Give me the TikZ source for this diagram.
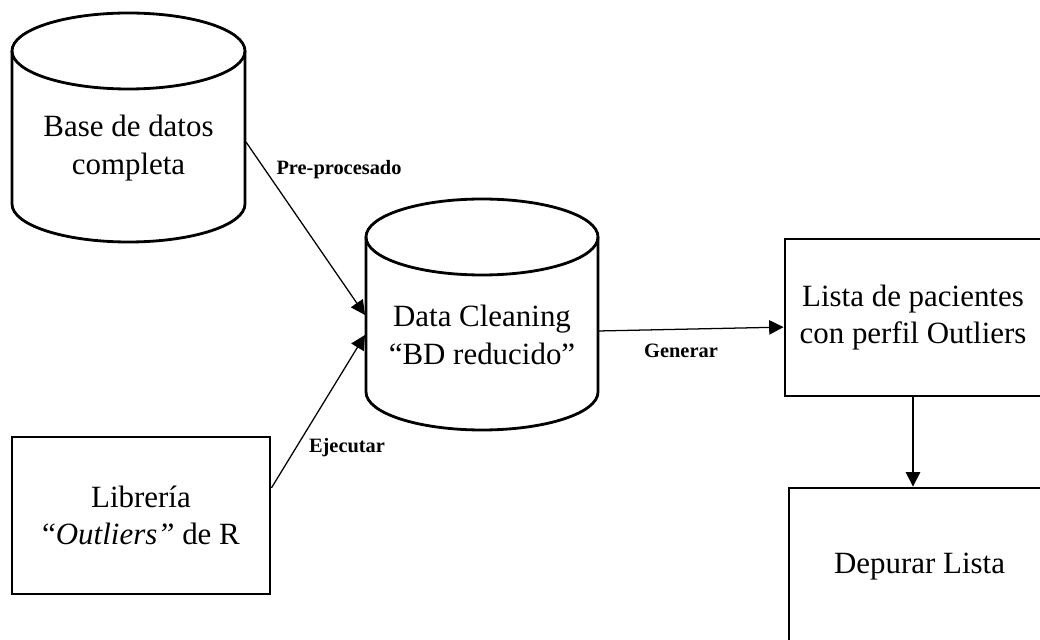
\documentclass[tikz,border=0pt]{standalone}
\usepackage{fontspec}
\setmainfont{Liberation Serif}
\usetikzlibrary{arrows.meta}
\tikzset{
	box/.style={
		draw,
		line width = 2pt,
		shape = rectangle,
		align = center,
		font = \fontsize{22}{26.5}\selectfont
	},
	txt/.style={
		align = center,
		font = \fontsize{22}{26.5}\selectfont
	},
	lbl/.style={
		font = \fontsize{14.5}{17}\selectfont\bfseries
	},
	cyl/.style={
		line width = 2pt
	},
	conn/.style={
		line width = 0.9pt,
		-{Triangle[length=0.36cm,width=0.36cm]}
	},
}

\begin{document}
\begin{tikzpicture}[x=0.025cm, y=0.025cm]
    \useasboundingbox (0,0) rectangle (1040,639);
    \clip (0,0) rectangle (1040,639);
    % cilindros
    \draw[cyl] (12,588) -- (12,435) arc[start angle=180, end angle=360, x radius=116.5, y radius=38] -- (245,588);
    \draw[cyl] (128.5,588) ellipse [x radius=116.5, y radius=38];
    \draw[cyl] (366,402) -- (366,247) arc[start angle=180, end angle=360, x radius=116, y radius=38] -- (598,402);
    \draw[cyl] (482,402) ellipse [x radius=116, y radius=38];
    \node[txt] (bd) at (128.5,491) {Base de datos\\completa};
    \node[txt] (dc) at (482,304) {Data Cleaning\\“BD reducido”};
    % cajas
    \node[box, minimum width=6.45cm, minimum height=3.925cm] (lib) at (141,123.5) {Librería\\“\textit{Outliers”} de R};
    \node[box, minimum width=6.4cm, minimum height=3.925cm] (lista) at (913,321.5) {Lista de pacientes\\con perfil Outliers};
    \node[box, minimum width=6.525cm, minimum height=3.95cm] (dep) at (919.5,72) {Depurar Lista};
    % puntos de conexion
    \coordinate (bdR) at (246,497);
    \coordinate (dcA) at (365,324);
    \coordinate (dcB) at (365,304);
    \coordinate (dcR) at (598,308);
    \draw[conn] (bdR) -- (dcA);
    \draw[conn] ([yshift=0.69cm]lib.east) -- (dcB);
    \draw[conn] (dcR) -- ([yshift=-0.24cm]lista.west);
    \draw[conn] (lista.south) -- (lista.south |- dep.north);
    \node[lbl] (pre) at (339,469) {Pre-procesado};
    \node[lbl] (eje) at (347,191) {Ejecutar};
    \node[lbl] (gen) at (681,288) {Generar};
\end{tikzpicture}
\end{document}
